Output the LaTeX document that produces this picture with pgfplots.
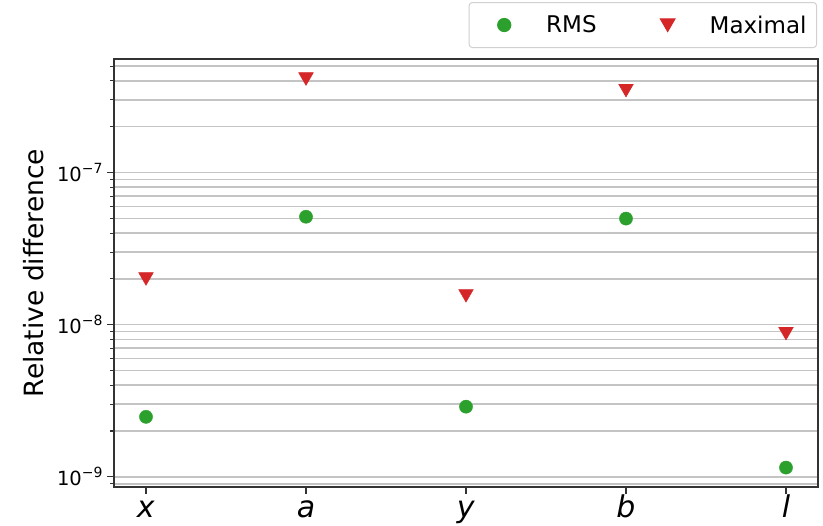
\documentclass[border=0pt]{standalone}
\usepackage{fontspec}
\setmainfont{DejaVu Sans}
\usepackage{pgfplots}
\pgfplotsset{compat=1.18}
\definecolor{mgreen}{HTML}{2CA02C}
\definecolor{mred}{HTML}{D62728}
\definecolor{gridc}{HTML}{C4C4C4}
\definecolor{legc}{HTML}{D0D0D0}
\newcommand{\ytl}[1]{10\raisebox{0.42em}{\fontsize{14}{14}\selectfont −#1}}
\pgfplotsset{myleg/.style={legend image code/.code={\path[draw=none] (0pt,0pt) -- (67pt,0pt); \draw[mark repeat=2,mark phase=2,##1,only marks] plot coordinates {(0pt,0pt)(27pt,0pt)(67pt,0pt)};}}}
\begin{document}
\begin{tikzpicture}
\begin{axis}[name=ax, scale only axis, width=704pt, height=428pt,
  ymode=log, xmin=-0.2, xmax=4.2, ymin=8.57e-10, ymax=5.57e-7,
  xtick={0,1,2,3,4},
  xticklabels={\textit{x},\textit{a},\textit{y},\textit{b},\textit{l}},
  ytick={1e-9,1e-8,1e-7},
  yticklabels={\ytl{9},\ytl{8},\ytl{7}},
  minor ytick={9e-10,2e-9,3e-9,4e-9,5e-9,6e-9,7e-9,8e-9,9e-9,2e-8,3e-8,4e-8,5e-8,6e-8,7e-8,8e-8,9e-8,2e-7,3e-7,4e-7,5e-7},
  ymajorgrids, yminorgrids,
  major grid style={gridc, line width=1.5pt},
  minor grid style={gridc, line width=1.5pt},
  tick align=outside, xtick pos=bottom, ytick pos=left,
  major tick length=7pt, minor tick length=4pt,
  every tick/.style={black!80, line width=1.1pt},
  axis line style={line width=1.2pt, black!80},
  yticklabel style={font=\fontsize{19.5}{19.5}\selectfont, xshift=-1pt},
  xticklabel style={font=\fontsize{30}{30}\selectfont, anchor=base, yshift=-23pt},
  ylabel={Relative difference},
  ylabel style={at={(axis description cs:-0.114,0.5)}, anchor=center, font=\fontsize{26.5}{26.5}\selectfont},
  legend columns=2,
  legend cell align=left,
  legend style={at={(1,1)}, anchor=south east, yshift=11pt, xshift=-1pt,
    draw=legc, line width=1pt, rounded corners=3pt, fill=white,
    font=\fontsize{23}{23}\selectfont, inner xsep=8pt, inner ysep=11pt,
    /tikz/every even column/.append style={column sep=42pt}},
  clip=false,
]
\addplot[only marks, mark=*, mark size=6.6pt, color=mgreen, myleg]
  coordinates {(0,2.48e-9) (1,5.12e-8) (2,2.89e-9) (3,4.98e-8) (4,1.15e-9)};
\addlegendentry{RMS}
\addplot[only marks, mark=triangle*, mark size=8.5pt, color=mred, mark options={yshift=2pt, rotate=180}, myleg]
  coordinates {(0,2.0e-8) (1,4.12e-7) (2,1.55e-8) (3,3.46e-7) (4,8.75e-9)};
\addlegendentry{Maximal}
\end{axis}
\pgfresetboundingbox
\path ([xshift=-114pt,yshift=-38pt]ax.south west) rectangle ([xshift=5pt,yshift=59pt]ax.north east);
\end{tikzpicture}
\end{document}
